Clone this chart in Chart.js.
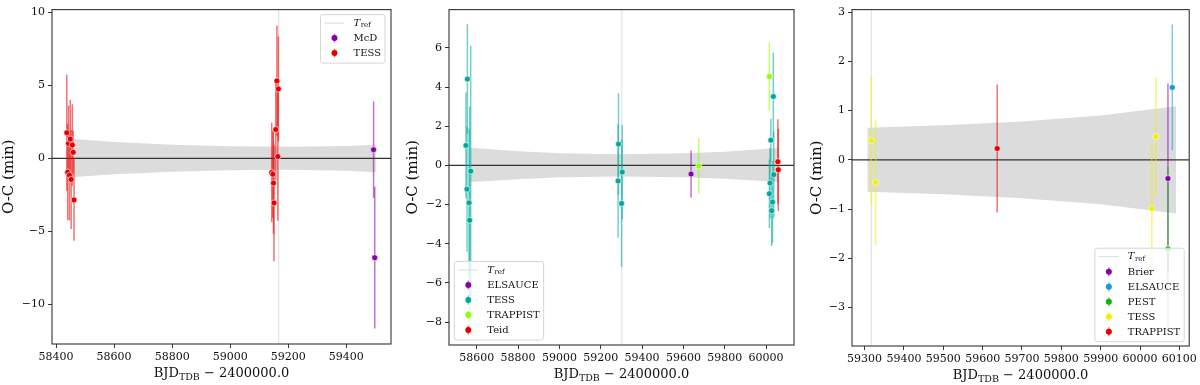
<!DOCTYPE html>
<html>
<head>
<meta charset="utf-8">
<script src="https://cdn.jsdelivr.net/npm/chart.js@4"></script>
<style>
  html, body { margin: 0; padding: 0; background: #fff; }
  #wrap { position: relative; width: 1200px; height: 385px; }
  canvas { position: absolute; top: 0; }
</style>
</head>
<body>
<div id="wrap">
  <canvas id="c1" width="400" height="385" style="left:0px"></canvas>
  <canvas id="c2" width="400" height="385" style="left:400px"></canvas>
  <canvas id="c3" width="400" height="385" style="left:800px"></canvas>
</div>
<script>
// ---------- panel 1 ----------
const p1XTicks = [58400, 58600, 58800, 59000, 59200, 59400];
const p1YTicks = [-10, -5, 0, 5, 10];
const p1XRange = [58386, 59554];
const p1YRange = [-12.74, 10.2];
const p1Tref = 59167;
const p1BandX  = [58462, 58600, 58800, 59000, 59200, 59400, 59502];
const p1BandHi = [1.32, 1.12, 0.93, 0.83, 0.80, 0.85, 0.93];
const p1BandLo = [-1.29, -1.10, -0.92, -0.82, -0.79, -0.85, -0.95];
const p1McdX   = [59494, 59498];
const p1McdY   = [0.59, -6.82];
const p1McdErr = [3.3, 4.86];
const p1TessX   = [58437, 58440, 58443, 58446, 58449, 58452, 58456, 58459, 58462,
                   59143, 59147, 59149, 59151, 59157, 59161, 59164, 59166];
const p1TessY   = [1.75, -0.95, 1.02, -1.16, 1.32, -1.45, 0.91, 0.41, -2.86,
                   -0.97, -1.09, -1.70, -3.06, 1.97, 5.31, 0.12, 4.76];
const p1TessErr = [4.0, 3.3, 2.6, 3.1, 2.7, 3.4, 2.8, 1.5, 2.8,
                   3.4, 3.0, 3.5, 4.0, 3.5, 3.8, 4.4, 3.6];

// ---------- panel 2 ----------
const p2XTicks = [58600, 58800, 59000, 59200, 59400, 59600, 59800, 60000];
const p2YTicks = [-8, -6, -4, -2, 0, 2, 4, 6];
const p2XRange = [58466, 60135];
const p2YRange = [-9.17, 7.96];
const p2Tref = 59302;
const p2BandX  = [58572, 58800, 59000, 59300, 59600, 59800, 60061];
const p2BandHi = [0.90, 0.72, 0.62, 0.57, 0.62, 0.70, 0.89];
const p2BandLo = [-0.85, -0.70, -0.60, -0.57, -0.60, -0.68, -0.85];
const p2ElsauceX   = [59637];
const p2ElsauceY   = [-0.44];
const p2ElsauceErr = [1.2];
const p2TessX   = [58548, 58553, 58555, 58563, 58566, 58571,
                   59284, 59286, 59301, 59304,
                   60016, 60019, 60023, 60027, 60031, 60035, 60037];
const p2TessY   = [1.02, -1.21, 4.41, -1.91, -2.80, -0.29,
                   -0.79, 1.09, -1.94, -0.34,
                   -1.44, -0.90, 1.29, -2.31, -1.87, 3.52, -0.47];
const p2TessErr = [2.7, 3.2, 2.8, 3.8, 5.8, 6.4,
                   2.9, 2.6, 3.25, 2.4,
                   1.75, 1.8, 1.1, 1.8, 2.1, 2.25, 2.2];
const p2TrappistX   = [59674, 60016];
const p2TrappistY   = [-0.03, 4.54];
const p2TrappistErr = [1.42, 1.75];
const p2TeidX   = [60057, 60059];
const p2TeidY   = [0.19, -0.22];
const p2TeidErr = [2.17, 2.1];

// ---------- panel 3 ----------
const p3XTicks = [59300, 59400, 59500, 59600, 59700, 59800, 59900, 60000, 60100];
const p3YTicks = [-3, -2, -1, 0, 1, 2, 3];
const p3XRange = [59268, 60125];
const p3YRange = [-3.78, 3.05];
const p3Tref = 59317;
const p3BandX  = [59307, 59500, 59700, 59900, 60092];
const p3BandHi = [0.65, 0.70, 0.78, 0.90, 1.09];
const p3BandLo = [-0.65, -0.70, -0.78, -0.90, -1.09];
const p3BrierX   = [60071];
const p3BrierY   = [-0.38];
const p3BrierErr = [1.93];
const p3ElsauceX   = [60082];
const p3ElsauceY   = [1.47];
const p3ElsauceErr = [1.28];
const p3PestX   = [60071];
const p3PestY   = [-1.81];
const p3PestErr = [1.66];
const p3TessX   = [59317, 59328, 60030, 60040];
const p3TessY   = [0.39, -0.46, -0.99, 0.47];
const p3TessErr = [1.31, 1.27, 1.35, 1.21];
const p3TrappistX   = [59637];
const p3TrappistY   = [0.23];
const p3TrappistErr = [1.3];

const FONT = 'DejaVu Serif';
const PURPLE = '#8800aa', RED = '#e60000', TEAL = '#00a99d', LIME = '#8cff00';
const BLUE = '#109be0', GREEN = '#00bb00', YELLOW = '#f0f000';

function fade(hex, a) {
  const n = parseInt(hex.slice(1), 16);
  return 'rgba(' + (n >> 16) + ',' + ((n >> 8) & 255) + ',' + (n & 255) + ',' + a + ')';
}

// frame round the plot area (all four sides like matplotlib)
const framePlugin = {
  id: 'frame',
  afterDatasetsDraw(chart) {
    const a = chart.chartArea, ctx = chart.ctx;
    ctx.save();
    ctx.strokeStyle = '#333';
    ctx.lineWidth = 1.1;
    ctx.strokeRect(a.left, a.top, a.right - a.left, a.bottom - a.top);
    ctx.restore();
  }
};

// x axis title with a subscript
const xTitlePlugin = {
  id: 'xtitle',
  afterDraw(chart) {
    const a = chart.chartArea, ctx = chart.ctx;
    const big = '13px "' + FONT + '"', small = '9.5px "' + FONT + '"';
    ctx.save();
    ctx.fillStyle = '#111';
    ctx.textBaseline = 'alphabetic';
    ctx.font = big;
    const w1 = ctx.measureText('BJD').width;
    const w3 = ctx.measureText(' \u2212 2400000.0').width;
    ctx.font = small;
    const w2 = ctx.measureText('TDB').width;
    let x = (a.left + a.right) / 2 - (w1 + w2 + w3) / 2;
    const y = a.bottom + 32.5;
    ctx.font = big;
    ctx.fillText('BJD', x, y);
    x += w1;
    ctx.font = small;
    ctx.fillText('TDB', x, y + 3);
    x += w2;
    ctx.font = big;
    ctx.fillText(' \u2212 2400000.0', x, y);
    ctx.restore();
  }
};

function legendPlugin(series, corner, dx, dy) {
  return {
    id: 'oclegend',
    afterDraw(chart) {
      const a = chart.chartArea, ctx = chart.ctx;
      ctx.save();
      ctx.font = '10px "' + FONT + '"';
      let tw = 0;
      series.forEach(s => { tw = Math.max(tw, ctx.measureText(s.label).width); });
      const w = 33 + tw + 4;
      const h = (series.length + 1) * 15 + 3.5;
      const left = corner[1] === 'r' ? a.right - dx - w : a.left + dx;
      const top = corner[0] === 't' ? a.top + dy : a.bottom - dy - h;
      ctx.beginPath();
      ctx.roundRect(left, top, w, h, 2.5);
      ctx.fillStyle = 'rgba(255,255,255,0.8)';
      ctx.fill();
      ctx.strokeStyle = '#d6d6d6';
      ctx.lineWidth = 1;
      ctx.stroke();

      let y = top + 8.5;
      // T_ref row
      ctx.strokeStyle = '#dcdcdc';
      ctx.beginPath();
      ctx.moveTo(left + 4, y);
      ctx.lineTo(left + 24, y);
      ctx.stroke();
      ctx.fillStyle = '#111';
      ctx.textBaseline = 'middle';
      ctx.font = 'italic 10px "' + FONT + '"';
      ctx.fillText('T', left + 33, y);
      const tW = ctx.measureText('T').width;
      ctx.font = '7px "' + FONT + '"';
      ctx.fillText('ref', left + 33 + tW + 0.5, y + 2.5);
      ctx.font = '10px "' + FONT + '"';
      series.forEach(s => {
        y += 15;
        ctx.strokeStyle = fade(s.color, 0.55);
        ctx.lineWidth = 1.5;
        ctx.beginPath();
        ctx.moveTo(left + 14, y - 4.5);
        ctx.lineTo(left + 14, y + 4.5);
        ctx.stroke();
        ctx.beginPath();
        ctx.arc(left + 14, y, 3, 0, Math.PI * 2);
        ctx.fillStyle = s.color;
        ctx.fill();
        ctx.fillStyle = '#111';
        ctx.fillText(s.label, left + 33, y + 0.5);
      });
      ctx.restore();
    }
  };
}

function makePanel(id, p) {
  const datasets = [];
  datasets.push({
    type: 'line', order: 100, fill: '+1', backgroundColor: '#dcdcdc',
    borderColor: 'rgba(0,0,0,0)', borderWidth: 0, pointRadius: 0,
    data: p.bandX.map((x, i) => ({x: x, y: p.bandHi[i]}))
  });
  datasets.push({
    type: 'line', order: 99, fill: false,
    borderColor: 'rgba(0,0,0,0)', borderWidth: 0, pointRadius: 0,
    data: p.bandX.map((x, i) => ({x: x, y: p.bandLo[i]}))
  });
  datasets.push({
    type: 'line', order: 90, borderColor: '#dedede', borderWidth: 1, pointRadius: 0,
    data: [{x: p.tref, y: p.yRange[0]}, {x: p.tref, y: p.yRange[1]}]
  });
  datasets.push({
    type: 'line', order: 80, borderColor: '#333', borderWidth: 1.3, pointRadius: 0,
    data: [{x: p.xRange[0], y: 0}, {x: p.xRange[1], y: 0}]
  });
  p.series.forEach((s, k) => {
    s.x.forEach((x, i) => {
      datasets.push({
        type: 'line', order: 50 - k, borderColor: fade(s.color, 0.55), borderWidth: 1.5,
        borderCapStyle: 'butt', pointRadius: 0,
        data: [{x: x, y: s.y[i] - s.err[i]}, {x: x, y: s.y[i] + s.err[i]}]
      });
    });
  });
  p.series.forEach((s, k) => {
    datasets.push({
      type: 'scatter', order: 10 - k, label: s.label,
      pointRadius: 3, pointBackgroundColor: s.color,
      pointBorderColor: '#fff', pointBorderWidth: 0.6,
      data: s.x.map((x, i) => ({x: x, y: s.y[i]}))
    });
  });

  const tickFont = {family: FONT, size: 11};
  const gridOpts = {drawOnChartArea: false, drawTicks: true, tickLength: 4, color: '#333', lineWidth: 1};

  new Chart(document.getElementById(id), {
    type: 'scatter',
    data: {datasets: datasets},
    options: {
      responsive: false,
      animation: false,
      devicePixelRatio: 1,
      layout: {padding: {left: 0, top: p.top, right: p.right, bottom: 0}},
      plugins: {legend: {display: false}, tooltip: {enabled: false}},
      scales: {
        x: {
          type: 'linear', bounds: 'data', min: p.xRange[0], max: p.xRange[1],
          afterFit: s => { s.height = p.xh; },
          afterBuildTicks: s => { s.ticks = p.xTicks.map(v => ({value: v})); },
          grid: gridOpts, border: {display: false},
          ticks: {font: tickFont, color: '#111', padding: 3, maxRotation: 0, autoSkip: false,
                  callback: v => String(v)}
        },
        y: {
          type: 'linear', bounds: 'data', min: p.yRange[0], max: p.yRange[1],
          afterFit: s => { s.width = p.yw; },
          afterBuildTicks: s => { s.ticks = p.yTicks.map(v => ({value: v})); },
          grid: gridOpts, border: {display: false},
          ticks: {font: tickFont, color: '#111', padding: 3, autoSkip: false,
                  callback: v => String(v).replace('-', '\u2212')},
          title: {display: true, text: 'O-C (min)', color: '#111',
                  font: {family: FONT, size: 15}, padding: {top: p.titlePad, bottom: 0}}
        }
      }
    },
    plugins: [framePlugin, xTitlePlugin, legendPlugin(p.series, p.legCorner, p.legDx, p.legDy)]
  });
}

makePanel('c1', {
  xRange: p1XRange, yRange: p1YRange, xTicks: p1XTicks, yTicks: p1YTicks, tref: p1Tref,
  bandX: p1BandX, bandHi: p1BandHi, bandLo: p1BandLo,
  series: [
    {label: 'McD', x: p1McdX, y: p1McdY, err: p1McdErr, color: PURPLE},
    {label: 'TESS', x: p1TessX, y: p1TessY, err: p1TessErr, color: RED}
  ],
  yw: 52, right: 9, top: 7, xh: 41, titlePad: 0,
  legCorner: 'tr', legDx: 6, legDy: 5
});

makePanel('c2', {
  xRange: p2XRange, yRange: p2YRange, xTicks: p2XTicks, yTicks: p2YTicks, tref: p2Tref,
  bandX: p2BandX, bandHi: p2BandHi, bandLo: p2BandLo,
  series: [
    {label: 'ELSAUCE', x: p2ElsauceX, y: p2ElsauceY, err: p2ElsauceErr, color: PURPLE},
    {label: 'TESS', x: p2TessX, y: p2TessY, err: p2TessErr, color: TEAL},
    {label: 'TRAPPIST', x: p2TrappistX, y: p2TrappistY, err: p2TrappistErr, color: LIME},
    {label: 'Teid', x: p2TeidX, y: p2TeidY, err: p2TeidErr, color: RED}
  ],
  yw: 49, right: 6, top: 3, xh: 40, titlePad: 4,
  legCorner: 'bl', legDx: 5.3, legDy: 5
});

makePanel('c3', {
  xRange: p3XRange, yRange: p3YRange, xTicks: p3XTicks, yTicks: p3YTicks, tref: p3Tref,
  bandX: p3BandX, bandHi: p3BandHi, bandLo: p3BandLo,
  series: [
    {label: 'Brier', x: p3BrierX, y: p3BrierY, err: p3BrierErr, color: PURPLE},
    {label: 'ELSAUCE', x: p3ElsauceX, y: p3ElsauceY, err: p3ElsauceErr, color: BLUE},
    {label: 'PEST', x: p3PestX, y: p3PestY, err: p3PestErr, color: GREEN},
    {label: 'TESS', x: p3TessX, y: p3TessY, err: p3TessErr, color: YELLOW},
    {label: 'TRAPPIST', x: p3TrappistX, y: p3TrappistY, err: p3TrappistErr, color: RED}
  ],
  yw: 52, right: 3, top: 4, xh: 39, titlePad: 8,
  legCorner: 'br', legDx: 5, legDy: 4.3
});
</script>
</body>
</html>
